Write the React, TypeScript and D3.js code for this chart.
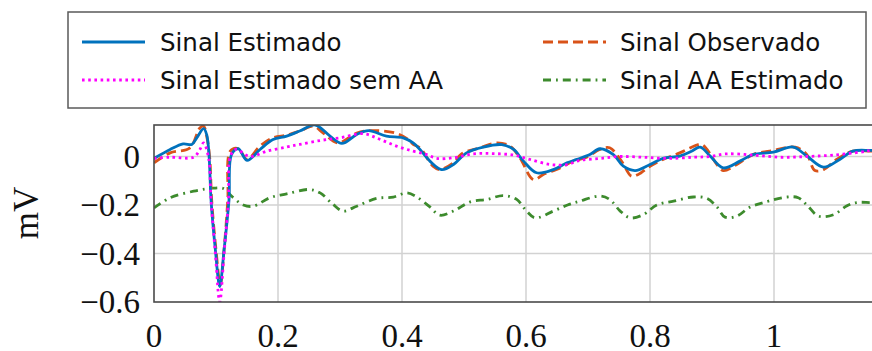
import React from "react";
import * as d3 from "d3";

const W = 872;
const H = 351;

// Sinal Estimado (t, mV)
const estT = [0.000, 0.026, 0.047, 0.061, 0.069, 0.080, 0.085, 0.089, 0.092, 0.099, 0.106, 0.113, 0.121, 0.125, 0.136, 0.150, 0.171, 0.192, 0.214, 0.235, 0.260, 0.284, 0.303, 0.327, 0.346, 0.375, 0.402, 0.418, 0.429, 0.445, 0.464, 0.483, 0.504, 0.531, 0.561, 0.580, 0.596, 0.617, 0.644, 0.666, 0.682, 0.703, 0.719, 0.741, 0.757, 0.776, 0.800, 0.821, 0.848, 0.867, 0.881, 0.897, 0.918, 0.945, 0.966, 0.999, 1.031, 1.053, 1.080, 1.106, 1.127, 1.157, 1.190];
const estV = [-0.008, 0.029, 0.052, 0.050, 0.077, 0.115, 0.090, -0.005, -0.179, -0.385, -0.536, -0.385, -0.179, 0.008, 0.032, -0.016, 0.029, 0.070, 0.084, 0.105, 0.130, 0.084, 0.054, 0.091, 0.107, 0.084, 0.077, 0.056, 0.029, -0.019, -0.054, -0.033, 0.015, 0.039, 0.049, 0.029, -0.019, -0.067, -0.054, -0.026, -0.012, 0.008, 0.032, 0.008, -0.040, -0.058, -0.033, -0.008, 0.002, 0.022, 0.039, 0.002, -0.047, -0.019, 0.008, 0.018, 0.039, 0.002, -0.044, -0.012, 0.022, 0.025, 0.025];

// Sinal Observado
const obsT = [0.000, 0.026, 0.058, 0.074, 0.080, 0.086, 0.090, 0.093, 0.100, 0.107, 0.113, 0.119, 0.123, 0.136, 0.150, 0.171, 0.192, 0.214, 0.235, 0.257, 0.273, 0.297, 0.327, 0.351, 0.389, 0.408, 0.418, 0.429, 0.450, 0.461, 0.483, 0.496, 0.526, 0.553, 0.574, 0.590, 0.612, 0.628, 0.655, 0.676, 0.698, 0.719, 0.735, 0.754, 0.770, 0.781, 0.800, 0.821, 0.848, 0.875, 0.883, 0.892, 0.908, 0.918, 0.940, 0.966, 0.999, 1.034, 1.053, 1.066, 1.080, 1.101, 1.127, 1.157, 1.190];
const obsV = [-0.026, 0.015, 0.036, 0.118, 0.125, 0.070, -0.010, -0.179, -0.385, -0.530, -0.385, -0.179, 0.022, 0.033, -0.012, 0.043, 0.077, 0.088, 0.105, 0.125, 0.097, 0.056, 0.097, 0.107, 0.097, 0.074, 0.050, 0.036, -0.040, -0.054, -0.026, 0.011, 0.036, 0.056, 0.043, -0.005, -0.095, -0.074, -0.047, -0.019, -0.003, 0.029, 0.036, -0.019, -0.081, -0.074, -0.040, -0.012, 0.015, 0.047, 0.050, 0.029, -0.033, -0.058, -0.033, 0.008, 0.025, 0.039, 0.008, -0.058, -0.054, -0.012, 0.022, 0.022, 0.022];

// Sinal Estimado sem AA
const semT = [0.000, 0.026, 0.064, 0.074, 0.080, 0.088, 0.092, 0.099, 0.106, 0.113, 0.120, 0.123, 0.132, 0.155, 0.182, 0.214, 0.235, 0.268, 0.300, 0.338, 0.365, 0.391, 0.418, 0.440, 0.456, 0.483, 0.515, 0.547, 0.580, 0.606, 0.639, 0.666, 0.687, 0.719, 0.752, 0.789, 0.827, 0.870, 0.897, 0.923, 0.966, 1.010, 1.053, 1.095, 1.139, 1.157, 1.190];
const semV = [-0.008, -0.003, -0.003, 0.029, 0.056, -0.005, -0.180, -0.400, -0.600, -0.400, -0.180, 0.000, 0.029, 0.000, 0.022, 0.039, 0.050, 0.066, 0.077, 0.094, 0.070, 0.043, 0.022, 0.008, -0.008, -0.005, 0.011, 0.012, 0.006, -0.012, -0.033, -0.033, -0.016, -0.008, 0.000, -0.003, -0.008, -0.003, 0.000, 0.011, 0.006, -0.003, 0.000, 0.006, 0.018, 0.025, 0.025];

// Sinal AA Estimado
const aaT = [0.000, 0.026, 0.064, 0.090, 0.112, 0.125, 0.144, 0.160, 0.187, 0.214, 0.250, 0.268, 0.289, 0.305, 0.327, 0.359, 0.386, 0.408, 0.424, 0.445, 0.461, 0.483, 0.510, 0.537, 0.563, 0.585, 0.601, 0.615, 0.644, 0.667, 0.687, 0.719, 0.735, 0.752, 0.768, 0.789, 0.811, 0.838, 0.870, 0.892, 0.908, 0.921, 0.940, 0.961, 0.983, 1.021, 1.039, 1.053, 1.072, 1.096, 1.117, 1.133, 1.157, 1.190];
const aaV = [-0.212, -0.170, -0.143, -0.132, -0.132, -0.163, -0.200, -0.205, -0.170, -0.154, -0.136, -0.150, -0.198, -0.225, -0.205, -0.173, -0.167, -0.150, -0.167, -0.208, -0.242, -0.225, -0.187, -0.177, -0.161, -0.177, -0.225, -0.253, -0.225, -0.200, -0.184, -0.163, -0.177, -0.225, -0.253, -0.240, -0.200, -0.184, -0.167, -0.173, -0.208, -0.250, -0.246, -0.209, -0.190, -0.167, -0.170, -0.200, -0.246, -0.240, -0.204, -0.190, -0.190, -0.190];

const xTicks = [0, 0.2, 0.4, 0.6, 0.8, 1];
const yTicks = [0, -0.2, -0.4, -0.6];
const seriesNames = ["Sinal Estimado", "Sinal Estimado sem AA", "Sinal Observado", "Sinal AA Estimado"];

const BLUE = "#0072BD";
const ORANGE = "#D95319";
const MAGENTA = "#FF00FF";
const GREEN = "#3d8b2d";

export default function App() {
  const left = 154;
  const top = 125;
  const bottom = 302;
  const xMax = 1.2;
  const x = d3.scaleLinear().domain([0, xMax]).range([left, left + 620 * xMax]);
  const y = d3.scaleLinear().domain([-0.6, 0.13]).range([bottom, top]);

  const line = d3
    .line<[number, number]>()
    .x((d) => x(d[0]))
    .y((d) => y(d[1]))
    .curve(d3.curveCatmullRom.alpha(0.5));

  const zip = (t: number[], v: number[]) => t.map((ti, i) => [ti, v[i]] as [number, number]);

  const plotRight = x(xMax);
  const fmt = (v: number) => (v === 0 ? "0" : (v < 0 ? "\u2212" : "") + String(Math.abs(v)));

  const lw = 2.8;

  return (
    <svg width={W} height={H} style={{ position: "absolute", left: 0, top: 0, background: "#fff" }}>
      <defs>
        <clipPath id="plotclip">
          <rect x={left} y={top} width={plotRight - left} height={bottom - top} />
        </clipPath>
      </defs>
      <rect x={0} y={0} width={W} height={H} fill="#fff" />

      {/* grid */}
      <g stroke="#d2d2d2" strokeWidth={1.5}>
        {xTicks.filter((t) => t > 0).map((t) => (
          <line key={"gx" + t} x1={x(t)} x2={x(t)} y1={top} y2={bottom} />
        ))}
        {yTicks.filter((t) => t > -0.6).map((t) => (
          <line key={"gy" + t} x1={left} x2={plotRight} y1={y(t)} y2={y(t)} />
        ))}
      </g>

      {/* series */}
      <g clipPath="url(#plotclip)" fill="none" strokeLinejoin="round">
        <path d={line(zip(aaT, aaV)) || ""} stroke={GREEN} strokeWidth={lw} strokeDasharray="8 5 1.8 5" />
        <path d={line(zip(obsT, obsV)) || ""} stroke={ORANGE} strokeWidth={lw} strokeDasharray="10 5" />
        <path d={line(zip(estT, estV)) || ""} stroke={BLUE} strokeWidth={lw} />
        <path d={line(zip(semT, semV)) || ""} stroke={MAGENTA} strokeWidth={lw} strokeDasharray="2.6 3.6" />
      </g>

      {/* frame */}
      <rect x={left} y={top} width={plotRight - left} height={bottom - top} fill="none" stroke="#4a4a4a" strokeWidth={1.6} />

      {/* tick labels */}
      <g fontFamily="'Liberation Serif', serif" fontSize={33} fill="#111">
        {xTicks.map((t) => (
          <text key={"xl" + t} x={x(t)} y={347} textAnchor="middle">
            {fmt(t)}
          </text>
        ))}
        {yTicks.map((t) => (
          <text key={"yl" + t} x={140} y={y(t) + 11} textAnchor="end">
            {fmt(t)}
          </text>
        ))}
        <text transform="translate(38,213) rotate(-90)" textAnchor="middle" fontSize={35}>
          mV
        </text>
      </g>

      {/* legend */}
      <rect x={68} y={12} width={798} height={96} fill="#fff" stroke="#5a5a5a" strokeWidth={1.5} />
      <g fontFamily="'DejaVu Sans', sans-serif" fontSize={24.5} fill="#111">
        <line x1={82} x2={145} y1={42} y2={42} stroke={BLUE} strokeWidth={3} />
        <text x={160} y={51}>{seriesNames[0]}</text>
        <line x1={82} x2={145} y1={80} y2={80} stroke={MAGENTA} strokeWidth={3} strokeDasharray="2.6 3.6" />
        <text x={160} y={89}>{seriesNames[1]}</text>
        <line x1={543} x2={606} y1={42} y2={42} stroke={ORANGE} strokeWidth={3} strokeDasharray="10 5" />
        <text x={620} y={51}>{seriesNames[2]}</text>
        <line x1={543} x2={606} y1={80} y2={80} stroke={GREEN} strokeWidth={3} strokeDasharray="8 5 1.8 5" />
        <text x={620} y={89}>{seriesNames[3]}</text>
      </g>
    </svg>
  );
}
